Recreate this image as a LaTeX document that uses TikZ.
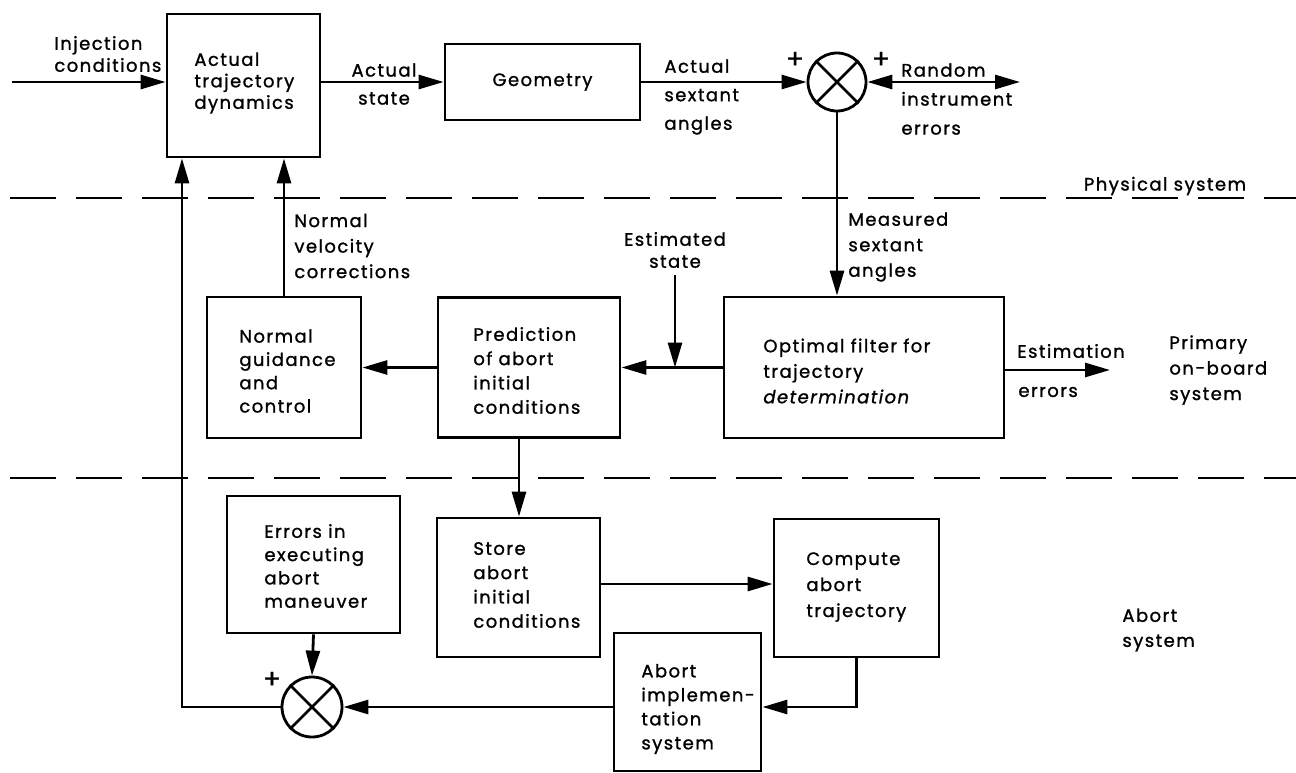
\documentclass[tikz,border=0pt]{standalone}
\usepackage{fontspec}
\setmainfont{Poppins}[LetterSpace=8, FakeBold=1.2]
\usetikzlibrary{arrows.meta,calc}
\begin{document}
\begin{tikzpicture}[x=1pt,y=-1pt, line width=2.8pt,
  every node/.style={font=\fontsize{18}{24}\selectfont},
  blk/.style={draw, line width=2.8pt, inner sep=0pt},
  sumj/.style={draw, circle, line width=2.8pt, minimum size=58pt, inner sep=0pt},
  arr/.style={-{Triangle[length=25pt,width=14pt]}},
  darr/.style={{Triangle[length=25pt,width=14pt]}-{Triangle[length=25pt,width=14pt]}},
  lbl/.style={align=left, anchor=west, inner sep=0pt, font=\fontsize{18}{#1}\selectfont},
  clbl/.style={align=center, inner sep=0pt, font=\fontsize{18}{#1}\selectfont},
  plus/.style={inner sep=0pt, font=\fontsize{26}{26}\selectfont},
  sep/.style={dash pattern=on 46pt off 20pt, line width=2.8pt}]
\useasboundingbox (0,0) rectangle (1296,772);

% separators
\coordinate (d1a) at (10,198); \coordinate (d1b) at (1296,198);
\coordinate (d2a) at (10,478); \coordinate (d2b) at (1296,478);
\draw[sep] (d1a) -- (d1b);
\draw[sep] (d2a) -- (d2b);

% blocks
\node[blk, minimum width=153pt, minimum height=143pt] (dyn) at (243.5,85.5) {};
\node[blk, minimum width=195pt, minimum height=76pt] (geo) at (542.5,82) {Geometry};
\node[sumj] (s1) at (837,82) {};
\draw (s1.north west) -- (s1.south east) (s1.north east) -- (s1.south west);
\node[blk, minimum width=154pt, minimum height=141pt] (guid) at (284,367.5) {};
\node[blk, minimum width=182pt, minimum height=140pt] (pred) at (529,367.5) {};
\node[blk, minimum width=280pt, minimum height=141pt] (filt) at (864,367.5) {};
\node[blk, minimum width=173pt, minimum height=137pt] (err) at (313.5,564.5) {};
\node[blk, minimum width=163pt, minimum height=139pt] (store) at (518.5,587.5) {};
\node[blk, minimum width=165pt, minimum height=138pt] (comp) at (856.5,588) {};
\node[blk, minimum width=147pt, minimum height=138pt] (impl) at (687.5,702) {};
\node[sumj, minimum size=60pt] (s2) at (312,707) {};
\draw (s2.north west) -- (s2.south east) (s2.north east) -- (s2.south west);

% block texts
\node[lbl=21.5] at (193,83) {Actual\\trajectory\\dynamics};
\node[lbl=23.3] at (238,371) {Normal\\guidance\\and\\control};
\node[lbl=24.3] at (472,370.5) {Prediction\\of abort\\initial\\conditions};
\node[lbl=25.5] at (762,371) {Optimal filter for\\trajectory\\\textit{determination}};
\node[lbl=23.3] at (263,566) {Errors in\\executing\\abort\\maneuver};
\node[lbl=24.3] at (472,585) {Store\\abort\\initial\\conditions};
\node[lbl=26] at (805,587) {Compute\\abort\\trajectory};
\node[lbl=24] at (640,709) {Abort\\implemen-\\tation\\system};

% labels
\node[lbl=22] at (53,54) {Injection\\conditions};
\node[clbl=28] at (384,84) {Actual\\state};
\node[lbl=28.5] at (663,97) {Actual\\sextant\\angles};
\node[plus] at (795,60) {+};
\node[plus] at (881,60) {+};
\node[plus] at (272,680) {+};
\node[lbl=29] at (900,99) {Random\\instrument\\errors};
\node[inner sep=0pt] at (1165,186) {Physical system};
\node[lbl=25.5] at (847,247) {Measured\\sextant\\angles};
\node[clbl=22] at (675,250) {Estimated\\state};
\node[lbl=25.5] at (293,246) {Normal\\velocity\\corrections};
\node[lbl=24] at (1016,351) {Estimation};
\node[lbl=24] at (1017,392) {errors};
\node[lbl=25.5] at (1168,370) {Primary\\on-board\\system};
\node[lbl=25] at (1121,630) {Abort\\system};

% connectors
\coordinate (inj) at (12,82);
\coordinate (rnd) at (1020,82);
\coordinate (es) at (675,275);
\coordinate (ee) at (1110,370);
\coordinate (yc) at (0,584);
\coordinate (r2) at (0,707);
\coordinate (fb) at (182,707);
\coordinate (pd) at (519,0);
\draw[arr] (inj) -- (inj -| dyn.west);
\draw[arr] (dyn.east |- geo.west) -- (geo.west);
\draw[arr] (geo.east) -- (s1.west);
\draw[darr] (s1.east) -- (rnd);
\draw[arr] (s1.south) -- (s1.south |- filt.north);
\draw[arr] (filt.east |- ee) -- (ee);
\draw[arr] (filt.west) -- (pred.east);
\draw[arr] (es) -- (es |- filt.west);
\draw[arr] (pred.west) -- (guid.east);
\draw[arr] (guid.north) -- (guid.north |- dyn.south);
\draw[arr] (pd |- pred.south) -- (pd |- store.north);
\draw[arr] (store.east |- yc) -- (comp.west |- yc);
\draw[arr] (comp.south) |- (impl.east |- r2);
\draw[arr] (impl.west |- r2) -- (s2.east);
\draw[arr] (err.south) -- (s2.north);
\draw[arr] (s2.west) -- (fb) -- (fb |- dyn.south);
\end{tikzpicture}
\end{document}
